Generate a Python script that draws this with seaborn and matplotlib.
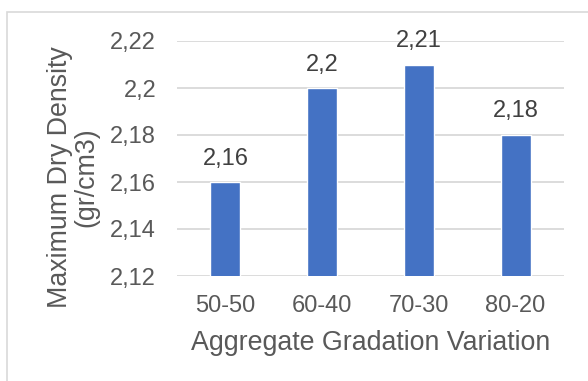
import matplotlib
matplotlib.use("Agg")
import matplotlib.pyplot as plt
import seaborn as sns
import pandas as pd
from matplotlib.patches import Rectangle

categories = ["50-50", "60-40", "70-30", "80-20"]
density = [2.16, 2.20, 2.21, 2.18]
yticks = [2.12, 2.14, 2.16, 2.18, 2.20, 2.22]

df = pd.DataFrame({"variation": categories, "mdd": density})

sns.set_theme(style="white")
plt.rcParams["font.family"] = ["Liberation Sans", "DejaVu Sans"]

text_color = "#595959"
grid_color = "#D9D9D9"
bar_color = "#4472C4"

fig = plt.figure(figsize=(5.88, 3.81), dpi=100)
ax = fig.add_axes([177 / 588, 1 - 276 / 381, (564 - 177) / 588, (276 - 41) / 381])

sns.barplot(data=df, x="variation", y="mdd", color=bar_color, width=0.31,
            saturation=1, ax=ax, zorder=3)

ax.set_ylim(2.12, 2.22)
ax.set_yticks(yticks)
ax.set_yticklabels([f"{v:g}".replace(".", ",") for v in yticks])
ax.yaxis.grid(True, color=grid_color, linewidth=1.3, zorder=0)
ax.set_axisbelow(True)
for s in ax.spines.values():
    s.set_visible(False)
ax.tick_params(axis="both", length=0, labelsize=17, colors=text_color)
ax.tick_params(axis="y", pad=15)
ax.tick_params(axis="x", pad=14)

ax.bar_label(ax.containers[0],
             labels=[f"{v:g}".replace(".", ",") for v in density],
             padding=9, fontsize=17, color="#404040")

ax.set_xlabel("Aggregate Gradation Variation", fontsize=19.3, color=text_color, labelpad=9)
ax.set_ylabel("Maximum Dry Density\n(gr/cm3)", fontsize=19.3, color=text_color,
              labelpad=8, linespacing=1.0, y=0.42)

fig.patches.append(Rectangle((7 / 588, -0.1), 1.2, 1 - 12 / 381 + 0.1,
                             transform=fig.transFigure, fill=False,
                             edgecolor="#D9D9D9", linewidth=1.2))

fig.savefig("out.png", dpi=100, facecolor="white")
